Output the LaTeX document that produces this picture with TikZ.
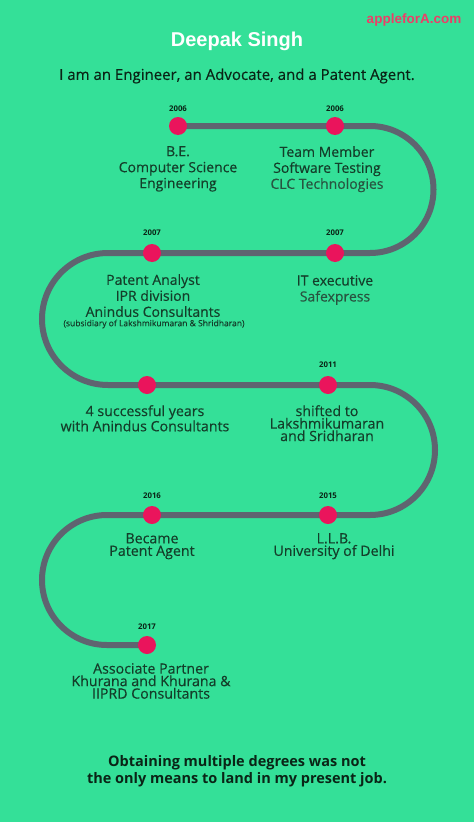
\documentclass[tikz,border=0pt]{standalone}
\usepackage{fontspec}
\setmainfont{Open Sans}
\newfontfamily\labfont[FakeBold=0.35]{Open Sans}
\newfontfamily\titlefont{Liberation Sans}
\definecolor{bgc}{RGB}{52,224,152}
\definecolor{linec}{RGB}{95,100,112}
\definecolor{dotc}{RGB}{234,20,92}
\definecolor{txtc}{RGB}{20,62,42}
\definecolor{txtl}{RGB}{40,84,64}
\definecolor{sitec}{RGB}{236,62,104}
\definecolor{darkc}{RGB}{10,36,22}
\tikzset{
  dot/.style={circle,fill=dotc,minimum size=18bp,inner sep=0},
  yr/.style={font=\fontsize{7.8bp}{9bp}\selectfont\bfseries,text=darkc,inner sep=0},
  lab/.style={align=center,anchor=north,inner sep=0,text=txtc,font=\labfont\fontsize{14bp}{16bp}\selectfont},
  labt/.style={align=center,anchor=north,inner sep=0,text=txtc,font=\labfont\fontsize{14.2bp}{12.5bp}\selectfont},
  track/.style={draw=linec,line width=6bp}
}
\begin{document}
\begin{tikzpicture}[x=1bp,y=-1bp]
\fill[bgc] (0,0) rectangle (474,822);
\useasboundingbox (0,0) rectangle (474,822);
% coordinates
\coordinate (p1) at (178,126);
\coordinate (p2) at (335,126);
\coordinate (p3) at (335,253);
\coordinate (p4) at (152,253);
\coordinate (p5) at (147,385);
\coordinate (p6) at (328,385);
\coordinate (p7) at (328,515);
\coordinate (p8) at (152,515);
\coordinate (p9) at (147,645);
\coordinate (a1) at (370,126);
\coordinate (a2) at (108,253);
\coordinate (a3) at (370,385);
\coordinate (a4) at (107,515);
% track
\draw[track] (p1) -- (a1) arc(-90:90:63.5) -- (a2) arc(270:90:66) -- (a3) arc(-90:90:65) -- (a4) arc(270:90:65) -- (p9);
% dots
\foreach \i in {1,...,9} \node[dot] (d\i) at (p\i) {};
% header
\node[font=\titlefont\fontsize{13.5bp}{15bp}\selectfont\bfseries,text=sitec,inner sep=0] (site) at (414,20) {appleforA.com};
\node[font=\titlefont\fontsize{20bp}{22bp}\selectfont\bfseries,text=white,inner sep=0] (title) at (237,41) {Deepak Singh};
\node[font=\labfont\fontsize{15bp}{17bp}\selectfont,text=darkc,inner sep=0] (sub) at (237,76) {I am an Engineer, an Advocate, and a Patent Agent.};
% years
\node[yr] (y1) at (178,109) {2006};
\node[yr] (y2) at (335,109) {2006};
\node[yr] (y3) at (152,233) {2007};
\node[yr] (y4) at (335,233) {2007};
\node[yr] (y6) at (328,365) {2011};
\node[yr] (y8) at (152,496) {2016};
\node[yr] (y7) at (328,496) {2015};
\node[yr] (y9) at (147,627) {2017};
% labels
\node[lab] (l1) at (178,146) {B.E.\\Computer Science\\Engineering};
\node[lab] (l2) at (327,146) {Team Member\\Software Testing\\\textcolor{txtl}{CLC Technologies}};
\node[lab] (l3) at (153,274) {Patent Analyst\\IPR division\\Anindus Consultants};
\node[font=\labfont\fontsize{8.5bp}{9bp}\selectfont,text=txtc,inner sep=0] (l3b) at (154,324) {(subsidiary of Lakshmikumaran \& Shridharan)};
\node[lab] (l4) at (335,275) {IT executive\\\textcolor{txtl}{Safexpress}};
\node[labt] (l5) at (145,405) {4 successful years\\with Anindus Consultants};
\node[labt] (l6) at (327,405) {shifted to\\Lakshmikumaran\\and Sridharan};
\node[labt] (l8) at (152,533) {Became\\Patent Agent};
\node[labt] (l7) at (334,533) {L.L.B.\\University of Delhi};
\node[labt] (l9) at (151,663) {Associate Partner\\Khurana and Khurana \&\\IIPRD Consultants};
% footer
\node[align=center,inner sep=0,text=darkc,font=\fontsize{14.5bp}{17bp}\selectfont\bfseries] (foot) at (237,771) {Obtaining multiple degrees was not\\the only means to land in my present job.};
\end{tikzpicture}
\end{document}
